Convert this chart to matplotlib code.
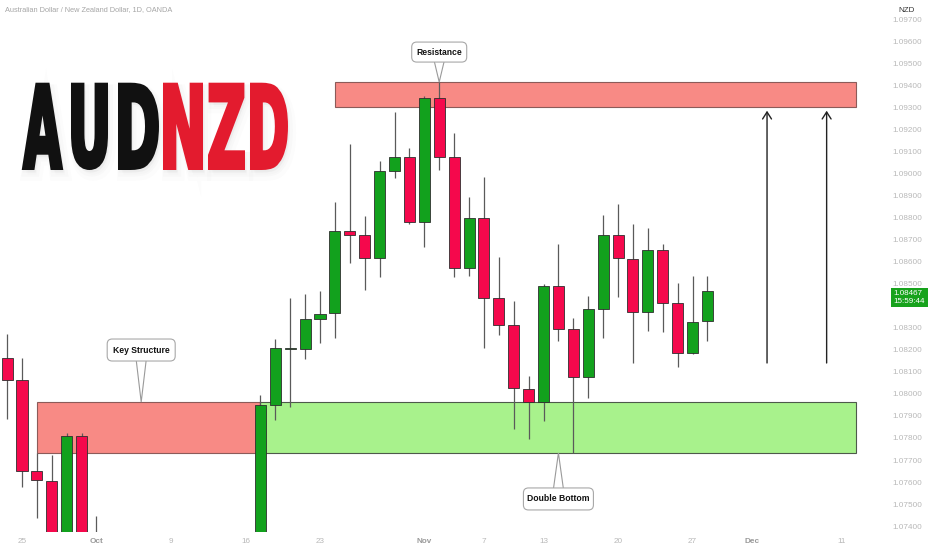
import numpy as np
import matplotlib
matplotlib.use("Agg")
import matplotlib.pyplot as plt
from matplotlib.patches import Rectangle, FancyBboxPatch, Polygon, PathPatch
from matplotlib.textpath import TextPath
from matplotlib.font_manager import FontProperties
from matplotlib.transforms import Affine2D, IdentityTransform

plt.rcParams['font.family'] = ['Liberation Sans', 'DejaVu Sans']

# daily AUDNZD candles (off-screen parts estimated)
dates = ['2023-09-22', '2023-09-25', '2023-09-26', '2023-09-27', '2023-09-28', '2023-09-29',
         '2023-10-02', '2023-10-17', '2023-10-18', '2023-10-19', '2023-10-20',
         '2023-10-23', '2023-10-24', '2023-10-25', '2023-10-26', '2023-10-27',
         '2023-10-30', '2023-10-31', '2023-11-01', '2023-11-02', '2023-11-03',
         '2023-11-06', '2023-11-07', '2023-11-08', '2023-11-09', '2023-11-10',
         '2023-11-13', '2023-11-14', '2023-11-15', '2023-11-16', '2023-11-17',
         '2023-11-20', '2023-11-21', '2023-11-22', '2023-11-23', '2023-11-24',
         '2023-11-27', '2023-11-28']
opens = [1.08164, 1.08063, 1.07651, 1.07605, 1.07280, 1.07810,
         1.07310, 1.07090, 1.07949, 1.08205, 1.08202,
         1.08338, 1.08365, 1.08739, 1.08720, 1.08615,
         1.09012, 1.09074, 1.08779, 1.09340, 1.09073,
         1.08572, 1.08798, 1.08433, 1.08311, 1.08023,
         1.07964, 1.08490, 1.08293, 1.08078, 1.08386,
         1.08720, 1.08612, 1.08371, 1.08652, 1.08411,
         1.08184, 1.08332]
highs = [1.08271, 1.08163, 1.07732, 1.07723, 1.07822, 1.07822,
         1.07446, 1.07993, 1.08249, 1.08435, 1.08453,
         1.08468, 1.08869, 1.09133, 1.08807, 1.09056,
         1.09277, 1.09115, 1.09351, 1.09414, 1.09184,
         1.08894, 1.08985, 1.08621, 1.08422, 1.08081,
         1.08497, 1.08680, 1.08343, 1.08444, 1.08811,
         1.08860, 1.08770, 1.08754, 1.08680, 1.08501,
         1.08534, 1.08536]
lows = [1.07886, 1.07579, 1.07437, 1.07230, 1.07180, 1.07260,
        1.07020, 1.07050, 1.07881, 1.07940, 1.08157,
        1.08232, 1.08255, 1.08592, 1.08471, 1.08531,
        1.08980, 1.08769, 1.08667, 1.09015, 1.08529,
        1.08536, 1.08207, 1.08267, 1.07841, 1.07794,
        1.07878, 1.08240, 1.07733, 1.07980, 1.08252,
        1.08438, 1.08141, 1.08286, 1.08279, 1.08120,
        1.08181, 1.08241]
closes = [1.08063, 1.07651, 1.07608, 1.07290, 1.07810, 1.07310,
          1.07150, 1.07949, 1.08207, 1.08209, 1.08338,
          1.08362, 1.08739, 1.08720, 1.08615, 1.09011,
          1.09074, 1.08779, 1.09340, 1.09073, 1.08572,
          1.08798, 1.08433, 1.08312, 1.08025, 1.07964,
          1.08490, 1.08295, 1.08078, 1.08383, 1.08720,
          1.08615, 1.08371, 1.08652, 1.08413, 1.08184,
          1.08327, 1.08467]

tick_dates = ['2023-09-25', '2023-10-02', '2023-10-09', '2023-10-16', '2023-10-23', '2023-11-01',
              '2023-11-07', '2023-11-13', '2023-11-20', '2023-11-27', '2023-12-01', '2023-12-11']
tick_labels = ['25', 'Oct', '9', '16', '23', 'Nov', '7', '13', '20', '27', 'Dec', '11']
month_labels = ['Oct', 'Nov', 'Dec']

# 1.08400 sits under the last-price tag, so it is left out
price_ticks = [v for v in np.round(np.arange(1.074, 1.0975, 0.001), 3) if v != 1.084]

# zones: (start, end, low, high)
resistance = ('2023-10-24', '2023-12-12', 1.09301, 1.09414)
key_structure = ('2023-09-26', '2023-10-17', 1.07732, 1.07963)
support = ('2023-10-17', '2023-12-12', 1.07732, 1.07963)

arrow_dates = ['2023-12-04', '2023-12-08']
arrow_from, arrow_to = 1.08140, 1.09284

last_price = '1.08467'
countdown = '15:59:44'

RED = '#f5084c'
GREEN = '#12a11d'


def bar_index(d):
    return np.busday_count(np.datetime64('2023-09-25'), np.array(d, dtype='datetime64[D]'))


fig = plt.figure(figsize=(9.32, 5.5), dpi=100, facecolor='white')
W, H = 932, 550
ax = fig.add_axes([0, 18 / H, 870 / W, 532 / H])
ax.set_facecolor('white')
ax.set_xlim(-1.476, 56.91)
ax.set_ylim(1.073735, 1.097862)
for s in ax.spines.values():
    s.set_visible(False)

xs = bar_index(dates)
o, h, l, c = map(np.array, (opens, highs, lows, closes))
up = c >= o

# zones
for (d0, d1, lo, hi), fc, ec in [(resistance, '#f88a85', '#8c5b59'),
                                  (key_structure, '#f88a85', '#8c5b59'),
                                  (support, '#a8f28c', '#4d5a4a')]:
    x0, x1 = bar_index(d0), bar_index(d1)
    ax.add_patch(Rectangle((x0, lo), x1 - x0, hi - lo, facecolor=fc, edgecolor=ec,
                           linewidth=0.8, zorder=1))

# candles
ax.vlines(xs, l, h, color='#5a5a5a', linewidth=0.9, zorder=2)
body_h = np.maximum(np.abs(c - o), 0.00003)
ax.bar(xs, body_h, bottom=np.minimum(o, c), width=0.74,
       color=np.where(up, GREEN, RED), edgecolor='#2e2e2e', linewidth=0.6, zorder=3)

# arrows
for d in arrow_dates:
    xi = bar_index(d)
    ax.annotate('', xy=(xi, arrow_to), xytext=(xi, arrow_from),
                arrowprops=dict(arrowstyle='->,head_length=0.5,head_width=0.32',
                                color='#222222', lw=1.0, shrinkA=0, shrinkB=0),
                zorder=4)

# axes ticks
ax.set_xticks(bar_index(tick_dates))
ax.set_xticklabels(tick_labels)
for t in ax.get_xticklabels():
    if t.get_text() in month_labels:
        t.set_color('#9a9a9a')
        t.set_fontweight('bold')
    else:
        t.set_color('#b8b8b8')
ax.tick_params(axis='x', length=0, labelsize=5.9, pad=4.5)
ax.yaxis.tick_right()
ax.set_yticks(price_ticks)
ax.set_yticklabels([f'{v:.5f}' for v in price_ticks])
ax.tick_params(axis='y', length=0, labelsize=5.9, labelcolor='#b8b8b8', pad=16.5)

fig.text(5 / W, 1 - 10 / H, 'Australian Dollar / New Zealand Dollar, 1D, OANDA',
         fontsize=5.3, color='#a6a6a6', va='center', ha='left')
fig.text(907 / W, 1 - 11 / H, 'NZD', fontsize=5.8, color='#333333', va='center', ha='center')

# last price label
ax.annotate(f'{last_price}\n{countdown}', xy=(1, float(last_price)),
            xycoords=('axes fraction', 'data'), xytext=(17, 0.5), textcoords='offset points',
            ha='left', va='top', fontsize=5.8, color='white', linespacing=1.15,
            bbox=dict(boxstyle='square,pad=0.3', fc='#17a21c', ec='none'), annotation_clip=False)


# callouts
def callout(xd, yd, text, bw, bh, gap, above=True):
    tx, ty = ax.transData.transform((xd, yd))
    if above:
        by0 = ty + gap
        base = by0 + 1
    else:
        by0 = ty - gap - bh
        base = by0 + bh - 1
    tri = Polygon([(tx - 5, base), (tx, ty), (tx + 5, base)], closed=True,
                  facecolor='white', edgecolor='#9a9a9a', linewidth=0.8,
                  transform=IdentityTransform(), zorder=6)
    box = FancyBboxPatch((tx - bw / 2, by0), bw, bh, boxstyle='round,pad=0,rounding_size=5',
                         facecolor='white', edgecolor='#a8a8a8', linewidth=0.8,
                         transform=IdentityTransform(), zorder=7)
    fig.add_artist(tri)
    fig.add_artist(box)
    fig.add_artist(Polygon([(tx - 4, base), (tx + 4, base), (tx + 4, base + (2 if above else -2)),
                            (tx - 4, base + (2 if above else -2))], closed=True,
                           facecolor='white', edgecolor='none',
                           transform=IdentityTransform(), zorder=8))
    fig.text(tx / W, (by0 + bh / 2) / H, text, ha='center', va='center',
             fontsize=6.2, fontweight='bold', color='#111111', zorder=9)


callout(bar_index('2023-11-02'), resistance[3], 'Resistance', 55, 20, 20, above=True)
callout(bar_index('2023-10-05'), key_structure[3], 'Key Structure', 68, 22, 41, above=True)
callout(bar_index('2023-11-14'), support[2], 'Double Bottom', 70, 22, 35, above=False)


# big AUDNZD title: each letter outline fitted to the pixel box it fills
def big_letter(ch, color, x0, x1, y_top=82.7, y_bot=170, lw=2.4):
    fp = FontProperties(family='DejaVu Sans', weight='bold')
    path = TextPath((0, 0), ch, size=100, prop=fp)
    bb = path.get_extents()
    lw_px = lw * 100 / 72
    w = (x1 - x0) - lw_px
    hh = (y_bot - y_top) - lw_px
    tr = (Affine2D().translate(-bb.x0, -bb.y0).scale(w / bb.width, hh / bb.height)
          .translate(x0 + lw_px / 2, H - y_bot + lw_px / 2))
    p = tr.transform_path(path)
    for k, a in [(9, 0.012), (6, 0.015), (3, 0.02)]:
        sh = Affine2D().translate(k * 0.4, -k * 0.7).transform_path(p)
        fig.add_artist(PathPatch(sh, facecolor='black', edgecolor='black', linewidth=k,
                                 alpha=a, transform=IdentityTransform(), zorder=4))
    fig.add_artist(PathPatch(p, facecolor=color, edgecolor=color, linewidth=lw,
                             transform=IdentityTransform(), zorder=5))


for ch, x0, x1 in [('A', 22, 63), ('U', 71, 108), ('D', 118, 159)]:
    big_letter(ch, '#111111', x0, x1)
for ch, x0, x1 in [('N', 163, 203), ('Z', 208, 245), ('D', 250, 288)]:
    big_letter(ch, '#e31b2e', x0, x1)

fig.savefig('out.png', dpi=100, facecolor='white')
